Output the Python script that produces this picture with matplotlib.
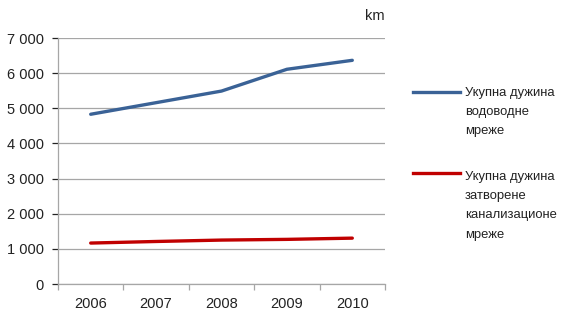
import matplotlib
matplotlib.use("Agg")
import matplotlib.pyplot as plt
from matplotlib.lines import Line2D
from matplotlib.ticker import FuncFormatter, FixedLocator

plt.rcParams["font.family"] = ["Liberation Sans", "DejaVu Sans"]

# ─── DATA ──────────────────────────────────────────────────────────────────────
years = ["2006", "2007", "2008", "2009", "2010"]
water_km = [4830, 5160, 5490, 6110, 6365]
sewer_km = [1165, 1210, 1250, 1270, 1305]
water_label = "Укупна дужина\nводоводне\nмреже"
sewer_label = "Укупна дужина\nзатворене\nканализационе\nмреже"
unit_label = "km"
# ───────────────────────────────────────────────────────────────────────────────

GRID = "#a6a6a6"
TEXT = "#222222"
W, H = 563, 312

fig = plt.figure(figsize=(W / 100, H / 100), dpi=100)
ax = fig.add_axes([58 / W, 1 - 284 / H, (385 - 58) / W, (284 - 38) / H])

x = range(len(years))
series = [(water_km, "#3a6296", water_label), (sewer_km, "#c00000", sewer_label)]
for vals, col, lab in series:
    ax.plot(x, vals, color=col, lw=2.4, solid_capstyle="round", label=lab)

ax.set_xlim(-0.5, len(years) - 0.5)
ax.set_ylim(0, 7000)
ax.set_yticks(range(0, 7001, 1000))
ax.yaxis.set_major_formatter(FuncFormatter(lambda v, p: f"{int(v):,}".replace(",", " ")))
ax.grid(axis="y", color=GRID, lw=0.9)
ax.set_axisbelow(True)

ax.set_xticks(list(x))
ax.set_xticklabels(years)
ax.xaxis.set_minor_locator(FixedLocator([i - 0.5 for i in range(len(years) + 1)]))
ax.tick_params(axis="x", which="major", length=0, pad=9)
ax.tick_params(axis="x", which="minor", length=4, color=GRID, width=0.9)
ax.tick_params(axis="y", length=4, color=GRID, width=0.9, pad=6)
ax.tick_params(labelsize=10.5, colors=TEXT)

for s in ["top", "right"]:
    ax.spines[s].set_visible(False)
for s in ["left", "bottom"]:
    ax.spines[s].set_color(GRID)
    ax.spines[s].set_linewidth(0.9)

fig.text(385 / W, 1 - 16 / H, unit_label, ha="right", va="center", fontsize=10.5, color=TEXT)

# legend: handle lined up with the first text line, like the original
handle_rows = [92, 173]
text_tops = [87, 171]
for (vals, col, lab), ypx, tpx in zip(series, handle_rows, text_tops):
    y = 1 - ypx / H
    fig.add_artist(Line2D([413 / W, 460 / W], [y, y], color=col, lw=2.4,
                          transform=fig.transFigure))
    fig.text(465 / W, 1 - tpx / H, lab, ha="left", va="top", fontsize=9.4,
             linespacing=1.8, color=TEXT)

fig.savefig("out.png", dpi=100)
